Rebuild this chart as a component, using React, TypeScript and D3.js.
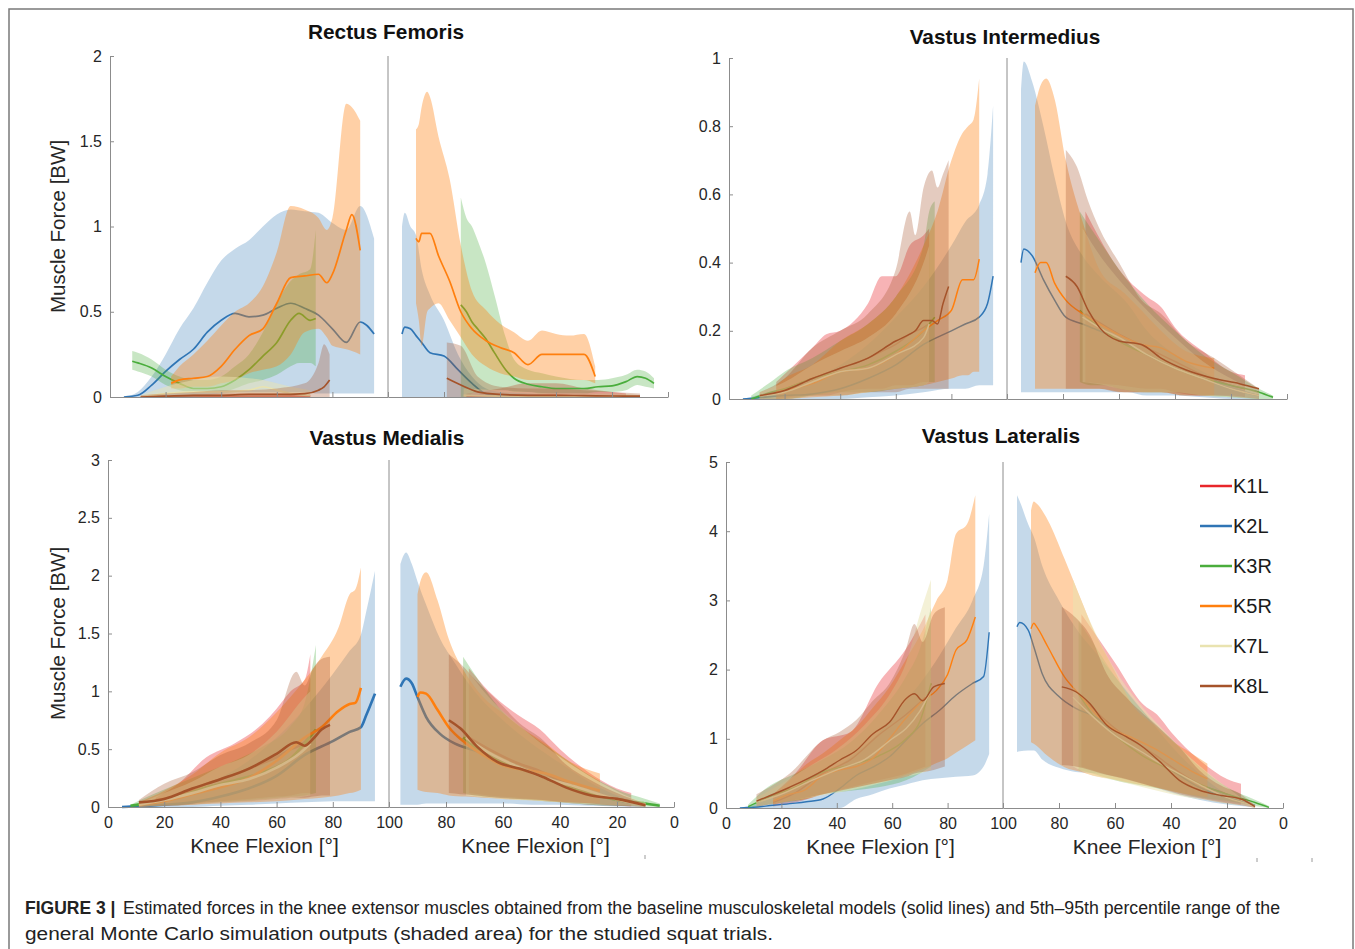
import React, { useEffect, useRef } from 'react';
import * as d3 from 'd3';

// subjects, drawn in this order (band then model line)
const SERIES: string[] = ['K1L', 'K2L', 'K3R', 'K5R', 'K7L', 'K8L'];
const COLORS: string[] = ['#e8262a', '#2f75b5', '#4aad3c', '#ff7f0e', '#e9e3b0', '#a5532a'];
const BAND_OPACITY: number[] = [0.35, 0.28, 0.3, 0.37, 0.5, 0.3];

// rows: [knee flexion (deg), 5th pct, model, 95th pct]  (BW)
// "down" = flexion phase (left half), "up" = extension phase (right half)
const RF_DOWN: number[][][] = [
  [[17, 0, 0, 0.01], [30, 0, 0.002, 0.015], [45, 0, 0.003, 0.02], [60, 0, 0.004, 0.02], [72, 0, 0.005, 0.015]],
  [[5, 0, 0, 0], [10, 0, 0.01, 0.03], [15, 0, 0.07, 0.12], [20, 0, 0.15, 0.25], [25, 0, 0.22, 0.4], [30, 0, 0.28, 0.52], [35, 0.01, 0.38, 0.67], [40, 0.02, 0.45, 0.8], [45, 0.03, 0.49, 0.87], [50, 0.03, 0.47, 0.92], [55, 0.03, 0.48, 1.0], [60, 0.03, 0.52, 1.07], [65, 0.03, 0.55, 1.1], [70, 0.03, 0.52, 1.09], [75, 0.02, 0.48, 1.08], [80, 0.02, 0.4, 1.02], [85, 0.02, 0.32, 0.98], [90, 0.02, 0.44, 1.12], [95, 0.02, 0.37, 0.93]],
  [[8, 0.16, 0.21, 0.27], [10, 0.15, 0.2, 0.26], [15, 0.12, 0.17, 0.22], [20, 0.07, 0.12, 0.16], [25, 0.04, 0.08, 0.12], [30, 0.03, 0.05, 0.1], [35, 0.03, 0.05, 0.1], [40, 0.03, 0.06, 0.12], [45, 0.05, 0.1, 0.18], [50, 0.08, 0.16, 0.25], [55, 0.1, 0.24, 0.38], [60, 0.13, 0.32, 0.55], [65, 0.18, 0.45, 0.68], [68, 0.2, 0.49, 0.72], [72, 0.2, 0.45, 0.75], [74, 0.18, 0.46, 0.98]],
  [[22, 0.05, 0.08, 0.12], [25, 0.05, 0.1, 0.18], [30, 0.06, 0.11, 0.25], [35, 0.06, 0.12, 0.33], [40, 0.08, 0.18, 0.42], [45, 0.1, 0.28, 0.5], [50, 0.14, 0.36, 0.55], [55, 0.16, 0.4, 0.65], [60, 0.18, 0.55, 0.85], [65, 0.25, 0.7, 1.12], [70, 0.38, 0.71, 1.1], [75, 0.4, 0.72, 1.05], [78, 0.35, 0.67, 0.98], [80, 0.3, 0.72, 1.05], [85, 0.28, 0.98, 1.72], [87, 0.27, 1.07, 1.7], [90, 0.25, 0.86, 1.62]],
  [[11, 0, 0, 0.01], [20, 0, 0.02, 0.06], [30, 0, 0.03, 0.1], [40, 0, 0.03, 0.12], [50, 0, 0.04, 0.11], [55, 0, 0.06, 0.1], [60, 0, 0.04, 0.08], [65, 0, 0.02, 0.06], [72, 0, 0.01, 0.04]],
  [[11, 0, 0, 0.01], [20, 0, 0.005, 0.02], [30, 0, 0.01, 0.03], [40, 0, 0.01, 0.04], [50, 0, 0.015, 0.04], [60, 0, 0.015, 0.05], [70, 0, 0.02, 0.08], [75, 0, 0.04, 0.2], [77, 0, 0.06, 0.31], [79, 0, 0.1, 0.25]],
];
const RF_UP: number[][][] = [
  [[72, 0, 0.005, 0.02], [60, 0, 0.01, 0.05], [50, 0, 0.01, 0.08], [40, 0, 0.01, 0.08], [30, 0, 0.005, 0.05], [20, 0, 0.003, 0.03], [15, 0, 0.002, 0.02]],
  [[95, 0, 0.37, 1.0], [94, 0, 0.41, 1.08], [92, 0, 0.4, 1.0], [90, 0, 0.36, 0.95], [88, 0, 0.32, 0.75], [85, 0, 0.26, 0.6], [80, 0, 0.24, 0.45], [75, 0, 0.16, 0.25], [70, 0, 0.08, 0.12], [65, 0, 0.02, 0.05], [60, 0, 0.01, 0.03], [50, 0, 0.005, 0.02], [40, 0, 0, 0.01], [30, 0, 0, 0.01], [20, 0, 0, 0.01], [10, 0, 0, 0]],
  [[74, 0, 0.54, 1.17], [72, 0, 0.5, 1.05], [70, 0.02, 0.44, 1.0], [68, 0.03, 0.4, 0.92], [65, 0.04, 0.34, 0.78], [62, 0.04, 0.26, 0.6], [58, 0.04, 0.16, 0.35], [55, 0.03, 0.11, 0.22], [50, 0.03, 0.075, 0.16], [45, 0.02, 0.06, 0.14], [40, 0.02, 0.05, 0.12], [30, 0.02, 0.05, 0.1], [25, 0.03, 0.06, 0.1], [20, 0.03, 0.065, 0.11], [15, 0.04, 0.09, 0.13], [11, 0.07, 0.12, 0.16], [8, 0.06, 0.11, 0.15], [5, 0.05, 0.08, 0.11]],
  [[90, 0.55, 0.93, 1.57], [89, 0.45, 0.91, 1.6], [88, 0.3, 0.96, 1.7], [86, 0.5, 0.96, 1.79], [85, 0.52, 0.96, 1.76], [82, 0.55, 0.83, 1.53], [78, 0.45, 0.68, 1.28], [74, 0.35, 0.5, 0.89], [70, 0.25, 0.4, 0.62], [65, 0.18, 0.33, 0.51], [60, 0.14, 0.29, 0.43], [55, 0.12, 0.26, 0.38], [50, 0.1, 0.19, 0.33], [45, 0.1, 0.25, 0.39], [40, 0.1, 0.25, 0.37], [35, 0.1, 0.25, 0.36], [30, 0.1, 0.25, 0.37], [26, 0.08, 0.12, 0.18]],
  [[73, 0, 0.01, 0.05], [60, 0, 0.005, 0.04], [50, 0, 0.003, 0.03], [40, 0, 0.002, 0.02], [30, 0, 0.002, 0.02], [20, 0, 0.002, 0.02], [10, 0, 0.002, 0.01]],
  [[79, 0, 0.11, 0.32], [74, 0, 0.07, 0.3], [68, 0, 0.03, 0.12], [60, 0, 0.015, 0.06], [50, 0, 0.01, 0.05], [40, 0, 0.01, 0.05], [30, 0, 0.008, 0.04], [20, 0, 0.006, 0.03], [10, 0, 0.005, 0.02]],
];

const VI_DOWN: number[][][] = [
  [[17, 0, 0.02, 0.05], [30, 0.01, 0.06, 0.15], [35, 0.01, 0.075, 0.19], [40, 0.02, 0.09, 0.2], [50, 0.03, 0.12, 0.28], [55, 0.03, 0.14, 0.36], [60, 0.04, 0.16, 0.36], [65, 0.04, 0.19, 0.45], [70, 0.05, 0.21, 0.48], [72, 0.05, 0.22, 0.5]],
  [[5, 0, 0, 0], [10, 0, 0.003, 0.01], [20, 0, 0.01, 0.03], [30, 0, 0.015, 0.06], [40, 0, 0.03, 0.1], [50, 0.005, 0.06, 0.16], [60, 0.01, 0.1, 0.24], [70, 0.02, 0.16, 0.33], [80, 0.03, 0.2, 0.45], [85, 0.03, 0.22, 0.52], [90, 0.04, 0.24, 0.57], [93, 0.04, 0.28, 0.66], [95, 0.04, 0.36, 0.86]],
  [[8, 0, 0, 0.01], [15, 0, 0.02, 0.05], [20, 0, 0.03, 0.08], [30, 0.01, 0.06, 0.12], [40, 0.02, 0.08, 0.17], [50, 0.02, 0.1, 0.22], [60, 0.03, 0.14, 0.3], [70, 0.04, 0.2, 0.45], [72, 0.05, 0.22, 0.55], [74, 0.05, 0.24, 0.58]],
  [[17, 0, 0.02, 0.04], [20, 0, 0.025, 0.06], [30, 0.005, 0.045, 0.1], [40, 0.01, 0.08, 0.17], [50, 0.02, 0.09, 0.22], [60, 0.03, 0.13, 0.3], [70, 0.04, 0.2, 0.45], [75, 0.05, 0.23, 0.55], [80, 0.06, 0.26, 0.7], [84, 0.07, 0.35, 0.78], [86, 0.07, 0.35, 0.8], [88, 0.08, 0.35, 0.82], [90, 0.08, 0.41, 0.94]],
  [[11, 0, 0.01, 0.02], [20, 0, 0.02, 0.05], [30, 0.01, 0.05, 0.1], [40, 0.01, 0.08, 0.14], [50, 0.02, 0.09, 0.18], [60, 0.03, 0.13, 0.25], [70, 0.04, 0.18, 0.4], [72, 0.05, 0.22, 0.45]],
  [[11, 0, 0.01, 0.02], [20, 0, 0.025, 0.06], [30, 0.01, 0.06, 0.15], [40, 0.01, 0.09, 0.2], [50, 0.02, 0.12, 0.25], [60, 0.02, 0.17, 0.38], [65, 0.03, 0.19, 0.55], [67, 0.03, 0.2, 0.48], [70, 0.03, 0.23, 0.62], [73, 0.03, 0.23, 0.67], [75, 0.03, 0.22, 0.62], [77, 0.03, 0.28, 0.66], [79, 0.03, 0.33, 0.7]],
];
const VI_UP: number[][][] = [
  [[72, 0.05, 0.25, 0.55], [60, 0.04, 0.19, 0.38], [50, 0.03, 0.15, 0.3], [45, 0.03, 0.13, 0.27], [40, 0.02, 0.11, 0.21], [30, 0.01, 0.07, 0.14], [20, 0.01, 0.04, 0.08], [15, 0.005, 0.03, 0.07]],
  [[95, 0.02, 0.4, 0.9], [94, 0.02, 0.44, 0.99], [91, 0.02, 0.42, 0.93], [87, 0.02, 0.35, 0.8], [83, 0.02, 0.29, 0.65], [79, 0.02, 0.24, 0.52], [73, 0.02, 0.22, 0.42], [67, 0.02, 0.2, 0.36], [57, 0.02, 0.16, 0.28], [50, 0.01, 0.13, 0.2], [40, 0.01, 0.09, 0.13], [30, 0.005, 0.06, 0.08], [20, 0, 0.03, 0.04], [10, 0, 0.01, 0.01]],
  [[74, 0.05, 0.26, 0.55], [70, 0.04, 0.23, 0.5], [65, 0.04, 0.2, 0.44], [60, 0.03, 0.17, 0.38], [50, 0.02, 0.13, 0.28], [40, 0.02, 0.09, 0.2], [30, 0.01, 0.06, 0.13], [20, 0.005, 0.04, 0.08], [10, 0, 0.02, 0.03], [5, 0, 0.005, 0.01]],
  [[90, 0.03, 0.37, 0.86], [88, 0.03, 0.4, 0.92], [86, 0.03, 0.4, 0.94], [83, 0.03, 0.34, 0.88], [79, 0.03, 0.29, 0.7], [73, 0.03, 0.25, 0.52], [67, 0.03, 0.22, 0.38], [58, 0.02, 0.18, 0.31], [52, 0.02, 0.16, 0.26], [45, 0.02, 0.15, 0.2], [36, 0.01, 0.11, 0.14], [26, 0.01, 0.09, 0.12]],
  [[73, 0.05, 0.24, 0.5], [65, 0.04, 0.2, 0.4], [60, 0.03, 0.18, 0.35], [50, 0.02, 0.13, 0.26], [40, 0.02, 0.09, 0.18], [30, 0.01, 0.06, 0.11], [20, 0.005, 0.03, 0.06], [10, 0, 0.01, 0.02]],
  [[79, 0.03, 0.36, 0.73], [75, 0.03, 0.33, 0.68], [71, 0.03, 0.26, 0.58], [67, 0.03, 0.21, 0.5], [60, 0.02, 0.17, 0.4], [52, 0.02, 0.16, 0.29], [45, 0.02, 0.12, 0.25], [36, 0.01, 0.085, 0.17], [26, 0.01, 0.06, 0.12], [17, 0.005, 0.045, 0.07], [10, 0, 0.03, 0.03]],
];

const VM_DOWN: number[][][] = [
  [[17, 0.01, 0.06, 0.08], [25, 0.02, 0.1, 0.2], [35, 0.04, 0.2, 0.43], [45, 0.06, 0.28, 0.55], [55, 0.08, 0.38, 0.72], [60, 0.09, 0.43, 0.85], [65, 0.1, 0.5, 1.0], [70, 0.12, 0.56, 1.1], [72, 0.12, 0.62, 1.32]],
  [[5, 0, 0, 0], [10, 0, 0.005, 0.02], [20, 0, 0.02, 0.05], [30, 0, 0.04, 0.12], [40, 0.01, 0.09, 0.25], [50, 0.02, 0.16, 0.4], [60, 0.03, 0.27, 0.6], [70, 0.04, 0.45, 0.85], [80, 0.05, 0.57, 1.15], [86, 0.05, 0.65, 1.35], [90, 0.05, 0.69, 1.49], [92, 0.05, 0.8, 1.7], [95, 0.05, 0.98, 2.04]],
  [[8, 0, 0.01, 0.02], [15, 0.01, 0.04, 0.1], [25, 0.02, 0.09, 0.2], [35, 0.04, 0.17, 0.3], [45, 0.05, 0.23, 0.4], [55, 0.07, 0.3, 0.52], [65, 0.09, 0.42, 0.7], [70, 0.1, 0.55, 0.9], [74, 0.12, 0.67, 1.4]],
  [[11, 0, 0.02, 0.04], [20, 0.01, 0.05, 0.14], [30, 0.02, 0.11, 0.28], [40, 0.03, 0.17, 0.47], [50, 0.04, 0.25, 0.6], [60, 0.05, 0.4, 0.82], [70, 0.07, 0.6, 1.1], [76, 0.08, 0.69, 1.3], [82, 0.1, 0.83, 1.55], [86, 0.12, 0.89, 1.84], [88, 0.13, 0.9, 1.88], [90, 0.15, 1.03, 2.07]],
  [[11, 0, 0.02, 0.03], [20, 0.01, 0.06, 0.12], [30, 0.02, 0.12, 0.22], [40, 0.04, 0.19, 0.35], [50, 0.05, 0.24, 0.45], [60, 0.07, 0.34, 0.65], [70, 0.09, 0.5, 0.95], [72, 0.1, 0.55, 1.0]],
  [[11, 0, 0.04, 0.06], [20, 0.01, 0.07, 0.2], [30, 0.02, 0.16, 0.3], [40, 0.04, 0.24, 0.45], [50, 0.05, 0.33, 0.55], [60, 0.07, 0.46, 0.75], [67, 0.08, 0.56, 1.17], [70, 0.08, 0.53, 1.05], [73, 0.09, 0.59, 1.2], [76, 0.1, 0.67, 1.28], [79, 0.1, 0.71, 1.3]],
];
const VM_UP: number[][][] = [
  [[72, 0.12, 0.6, 1.2], [65, 0.1, 0.5, 1.0], [55, 0.08, 0.38, 0.8], [47, 0.06, 0.31, 0.67], [40, 0.04, 0.23, 0.5], [30, 0.02, 0.13, 0.3], [20, 0.01, 0.07, 0.16], [15, 0.005, 0.05, 0.12]],
  [[96, 0.02, 1.04, 2.1], [94, 0.02, 1.11, 2.2], [92, 0.02, 1.07, 2.1], [90, 0.02, 0.95, 1.95], [87, 0.03, 0.78, 1.75], [82, 0.03, 0.63, 1.45], [77, 0.03, 0.55, 1.25], [70, 0.03, 0.49, 1.0], [60, 0.03, 0.4, 0.75], [50, 0.02, 0.3, 0.55], [40, 0.02, 0.2, 0.38], [30, 0.01, 0.12, 0.22], [20, 0.005, 0.06, 0.1], [10, 0, 0.02, 0.03]],
  [[74, 0.12, 0.6, 1.3], [70, 0.1, 0.52, 1.15], [60, 0.08, 0.38, 0.82], [50, 0.06, 0.3, 0.62], [40, 0.04, 0.2, 0.45], [30, 0.02, 0.12, 0.28], [20, 0.01, 0.06, 0.15], [10, 0.005, 0.03, 0.07], [5, 0, 0.01, 0.03]],
  [[90, 0.15, 0.95, 1.84], [89, 0.14, 0.99, 1.95], [87, 0.13, 0.98, 2.03], [83, 0.12, 0.84, 1.79], [79, 0.1, 0.69, 1.45], [73, 0.09, 0.55, 1.15], [67, 0.08, 0.45, 0.95], [60, 0.07, 0.36, 0.81], [52, 0.06, 0.32, 0.66], [45, 0.05, 0.29, 0.55], [37, 0.04, 0.22, 0.4], [26, 0.03, 0.14, 0.29]],
  [[73, 0.1, 0.6, 1.2], [65, 0.08, 0.47, 0.95], [55, 0.06, 0.35, 0.72], [45, 0.05, 0.25, 0.52], [35, 0.03, 0.18, 0.35], [25, 0.02, 0.1, 0.2], [15, 0.01, 0.04, 0.08], [10, 0, 0.02, 0.04]],
  [[79, 0.12, 0.75, 1.32], [75, 0.11, 0.68, 1.24], [69, 0.1, 0.52, 1.08], [62, 0.08, 0.39, 0.92], [54, 0.07, 0.33, 0.72], [46, 0.06, 0.26, 0.58], [38, 0.04, 0.17, 0.37], [29, 0.03, 0.1, 0.23], [20, 0.01, 0.07, 0.12], [10, 0, 0.015, 0.03]],
];

const VL_DOWN: number[][][] = [
  [[17, 0.02, 0.08, 0.2], [25, 0.08, 0.22, 0.5], [35, 0.2, 0.5, 0.98], [45, 0.3, 0.7, 1.1], [55, 0.4, 1.05, 1.8], [65, 0.5, 1.35, 2.3], [72, 0.6, 1.6, 2.8]],
  [[5, 0, 0, 0], [10, 0, 0.01, 0.05], [17, 0, 0.04, 0.15], [25, 0, 0.07, 0.28], [29, 0, 0.09, 0.36], [35, 0, 0.13, 0.48], [41, 0, 0.28, 0.62], [47, 0.13, 0.47, 0.8], [53, 0.2, 0.59, 1.0], [59, 0.28, 0.74, 1.25], [65, 0.34, 0.98, 1.55], [71, 0.4, 1.22, 1.85], [77, 0.43, 1.41, 2.2], [83, 0.45, 1.63, 2.6], [89, 0.47, 1.8, 3.0], [93, 0.6, 1.9, 3.5], [95, 0.78, 2.54, 4.25]],
  [[8, 0, 0.02, 0.05], [15, 0.05, 0.15, 0.3], [25, 0.1, 0.3, 0.5], [35, 0.2, 0.52, 0.7], [45, 0.25, 0.62, 0.95], [55, 0.3, 0.75, 1.35], [65, 0.4, 1.0, 1.9], [70, 0.5, 1.25, 2.3], [74, 0.6, 1.8, 2.9]],
  [[17, 0.05, 0.1, 0.2], [23, 0.1, 0.2, 0.4], [28, 0.12, 0.25, 0.6], [35, 0.2, 0.47, 0.79], [41, 0.25, 0.55, 0.98], [47, 0.3, 0.6, 1.17], [53, 0.35, 0.72, 1.45], [59, 0.4, 1.0, 1.75], [65, 0.48, 1.3, 2.15], [71, 0.56, 1.55, 2.57], [76, 0.65, 1.7, 3.0], [80, 0.72, 1.93, 3.3], [83, 0.8, 2.28, 3.96], [87, 0.9, 2.43, 4.1], [90, 0.98, 2.76, 4.52]],
  [[11, 0.03, 0.08, 0.15], [20, 0.08, 0.2, 0.35], [30, 0.15, 0.38, 0.6], [40, 0.22, 0.55, 0.85], [50, 0.3, 0.7, 1.2], [60, 0.4, 1.0, 1.7], [65, 0.45, 1.15, 2.1], [70, 0.5, 1.4, 2.8], [74, 0.55, 1.7, 3.3]],
  [[11, 0.02, 0.1, 0.2], [23, 0.1, 0.3, 0.5], [35, 0.2, 0.54, 0.98], [41, 0.25, 0.69, 1.1], [47, 0.3, 0.83, 1.27], [53, 0.35, 1.07, 1.55], [59, 0.4, 1.24, 1.8], [65, 0.45, 1.58, 2.3], [68, 0.5, 1.65, 2.66], [71, 0.52, 1.55, 2.4], [75, 0.55, 1.75, 2.8], [79, 0.6, 1.8, 2.9]],
];
const VL_UP: number[][][] = [
  [[72, 0.6, 1.6, 2.8], [60, 0.45, 1.15, 2.1], [50, 0.35, 0.88, 1.5], [45, 0.3, 0.75, 1.35], [40, 0.25, 0.6, 1.1], [30, 0.15, 0.35, 0.7], [20, 0.08, 0.2, 0.42], [15, 0.05, 0.12, 0.35]],
  [[95, 0.81, 2.62, 4.52], [94, 0.82, 2.68, 4.43], [91, 0.83, 2.57, 4.1], [89, 0.83, 2.33, 3.92], [86, 0.7, 1.94, 3.5], [80, 0.58, 1.61, 3.0], [74, 0.52, 1.44, 2.6], [66, 0.5, 1.29, 2.2], [60, 0.45, 1.05, 1.9], [50, 0.35, 0.8, 1.4], [40, 0.22, 0.55, 0.9], [30, 0.12, 0.3, 0.5], [20, 0.05, 0.15, 0.2], [10, 0.01, 0.04, 0.05]],
  [[73, 0.55, 1.65, 2.7], [68, 0.5, 1.35, 2.4], [60, 0.4, 1.05, 1.9], [50, 0.32, 0.75, 1.4], [40, 0.25, 0.55, 1.0], [30, 0.16, 0.35, 0.6], [20, 0.1, 0.2, 0.3], [10, 0.03, 0.08, 0.12], [5, 0, 0.01, 0.03]],
  [[90, 0.95, 2.59, 4.3], [89, 0.93, 2.67, 4.43], [88, 0.9, 2.62, 4.4], [84, 0.75, 2.33, 4.16], [78, 0.59, 1.89, 3.6], [72, 0.52, 1.61, 3.0], [68, 0.47, 1.41, 2.6], [61, 0.42, 1.15, 2.05], [53, 0.35, 1.0, 1.45], [46, 0.3, 0.86, 1.2], [39, 0.24, 0.69, 0.95], [33, 0.19, 0.54, 0.8], [27, 0.16, 0.42, 0.64]],
  [[75, 0.6, 1.6, 3.3], [70, 0.5, 1.4, 2.8], [60, 0.4, 1.05, 2.0], [50, 0.3, 0.8, 1.45], [42, 0.22, 0.6, 1.1], [35, 0.16, 0.45, 0.8], [28, 0.12, 0.3, 0.55], [20, 0.06, 0.15, 0.3], [12, 0.02, 0.05, 0.08], [10, 0, 0.02, 0.05]],
  [[79, 0.62, 1.75, 2.91], [74, 0.6, 1.68, 2.75], [69, 0.55, 1.51, 2.5], [63, 0.48, 1.2, 1.94], [56, 0.42, 1.03, 1.6], [51, 0.36, 0.91, 1.4], [44, 0.28, 0.67, 1.15], [37, 0.2, 0.4, 0.88], [30, 0.14, 0.26, 0.55], [22, 0.08, 0.18, 0.32], [15, 0.04, 0.13, 0.2], [10, 0, 0.02, 0.04]],
];

const RF_TICKS = [0, 0.5, 1, 1.5, 2];
const VI_TICKS = [0, 0.2, 0.4, 0.6, 0.8, 1];
const VM_TICKS = [0, 0.5, 1, 1.5, 2, 2.5, 3];
const VL_TICKS = [0, 1, 2, 3, 4, 5];
const KNEE_TICKS_DOWN = [0, 20, 40, 60, 80, 100];
const KNEE_TICKS_UP = [80, 60, 40, 20, 0];

const FONT = '"Liberation Sans", Arial, Helvetica, sans-serif';

const panels = [
  { title: 'Rectus Femoris', down: RF_DOWN, up: RF_UP, ticks: RF_TICKS, x0: 110, xMid: 388, xEnd: 668, yTop: 56, yBase: 397, titleY: 39, yLabel: true, xLabels: false, lw: 1.7 },
  { title: 'Vastus Intermedius', down: VI_DOWN, up: VI_UP, ticks: VI_TICKS, x0: 729, xMid: 1007, xEnd: 1287, yTop: 58, yBase: 399, titleY: 44, yLabel: false, xLabels: false, lw: 1.5 },
  { title: 'Vastus Medialis', down: VM_DOWN, up: VM_UP, ticks: VM_TICKS, x0: 108, xMid: 389, xEnd: 674, yTop: 460, yBase: 807, titleY: 445, yLabel: true, xLabels: true, lw: 2.6 },
  { title: 'Vastus Lateralis', down: VL_DOWN, up: VL_UP, ticks: VL_TICKS, x0: 726, xMid: 1003, xEnd: 1283, yTop: 462, yBase: 808, titleY: 443, yLabel: false, xLabels: true, lw: 1.4 },
];

const App: React.FC = () => {
  const svgRef = useRef<SVGSVGElement | null>(null);

  useEffect(() => {
    const el = svgRef.current;
    if (!el) return;
    const svg = d3.select(el);
    svg.selectAll('*').remove();

    svg.append('rect').attr('width', 1355).attr('height', 949).attr('fill', '#fff');
    // figure frame
    svg.append('rect')
      .attr('x', 9).attr('y', 9).attr('width', 1344).attr('height', 980)
      .attr('fill', 'none').attr('stroke', '#7a7a7a').attr('stroke-width', 1.5);

    panels.forEach((p) => {
      const g = svg.append('g');
      const yMax = p.ticks[p.ticks.length - 1];
      const y = d3.scaleLinear().domain([0, yMax]).range([p.yBase, p.yTop]);
      const xDown = d3.scaleLinear().domain([0, 100]).range([p.x0, p.xMid]);
      const xUp = d3.scaleLinear().domain([100, 0]).range([p.xMid, p.xEnd]);

      const phases: [number[][][], d3.ScaleLinear<number, number>][] = [[p.down, xDown], [p.up, xUp]];
      phases.forEach(([data, xs]) => {
        const area = d3.area<number[]>()
          .x((d) => xs(d[0]))
          .y0((d) => y(d[1]))
          .y1((d) => y(d[3]))
          .curve(d3.curveMonotoneX);
        const line = d3.line<number[]>()
          .x((d) => xs(d[0]))
          .y((d) => y(d[2]))
          .curve(d3.curveMonotoneX);
        data.forEach((rows, i) => {
          g.append('path')
            .attr('d', area(rows) as string)
            .attr('fill', COLORS[i])
            .attr('fill-opacity', BAND_OPACITY[i]);
          g.append('path')
            .attr('d', line(rows) as string)
            .attr('fill', 'none')
            .attr('stroke', COLORS[i])
            .attr('stroke-width', p.lw)
            .attr('stroke-linejoin', 'round');
        });
      });

      // axes
      const yAxis = g.append('g')
        .attr('transform', `translate(${p.x0},0)`)
        .call(d3.axisLeft(y).tickValues(p.ticks).tickSize(-4).tickSizeOuter(0).tickPadding(8).tickFormat((d) => String(d)));
      const xAxisDown = g.append('g')
        .attr('transform', `translate(0,${p.yBase})`)
        .call(d3.axisBottom(xDown).tickValues(KNEE_TICKS_DOWN).tickSize(-5).tickSizeOuter(0).tickPadding(10)
          .tickFormat((d) => (p.xLabels ? String(d) : '')));
      const xAxisUp = g.append('g')
        .attr('transform', `translate(0,${p.yBase})`)
        .call(d3.axisBottom(xUp).tickValues(KNEE_TICKS_UP).tickSize(-5).tickSizeOuter(0).tickPadding(10)
          .tickFormat((d) => (p.xLabels ? String(d) : '')));
      [yAxis, xAxisDown, xAxisUp].forEach((a) => {
        a.attr('font-family', FONT).attr('font-size', 16);
        a.selectAll('.domain').attr('stroke', '#8c8c8c');
        a.selectAll('.tick line').attr('stroke', '#8c8c8c');
        a.selectAll('.tick text').attr('fill', '#262626');
      });
      // divider between flexion and extension phases
      g.append('line')
        .attr('x1', p.xMid).attr('x2', p.xMid)
        .attr('y1', p.yTop).attr('y2', p.yBase)
        .attr('stroke', '#8c8c8c').attr('stroke-width', 1);

      g.append('text')
        .attr('x', p.xMid - 2).attr('y', p.titleY)
        .attr('text-anchor', 'middle')
        .attr('font-family', FONT).attr('font-weight', 'bold').attr('font-size', 20.8)
        .attr('fill', '#111')
        .text(p.title);

      if (p.yLabel) {
        g.append('text')
          .attr('transform', `translate(65,${(p.yTop + p.yBase) / 2}) rotate(-90)`)
          .attr('text-anchor', 'middle')
          .attr('font-family', FONT).attr('font-size', 20.5).attr('fill', '#262626')
          .text('Muscle Force [BW]');
      }
      if (p.xLabels) {
        [(p.x0 + p.xMid) / 2 + 16, (p.xMid + p.xEnd) / 2 + 4].forEach((cx) => {
          g.append('text')
            .attr('x', cx).attr('y', p.yBase + 46)
            .attr('text-anchor', 'middle')
            .attr('font-family', FONT).attr('font-size', 21).attr('fill', '#262626')
            .text('Knee Flexion [°]');
        });
      }
    });

    // small stray marks under the lower axes
    [[645, 855], [1257, 858], [1312, 858]].forEach(([mx, my]) => {
      svg.append('line').attr('x1', mx).attr('x2', mx).attr('y1', my).attr('y2', my + 4)
        .attr('stroke', '#9a9a9a').attr('stroke-width', 1);
    });

    // legend
    const legend = svg.append('g');
    SERIES.forEach((s, i) => {
      const ly = 486 + i * 40;
      legend.append('line')
        .attr('x1', 1200).attr('x2', 1232).attr('y1', ly).attr('y2', ly)
        .attr('stroke', COLORS[i]).attr('stroke-width', 2.5);
      legend.append('text')
        .attr('x', 1233).attr('y', ly + 7)
        .attr('font-family', FONT).attr('font-size', 20).attr('fill', '#1a1a1a')
        .text(s);
    });

    // caption
    const cap = svg.append('g').attr('font-family', FONT).attr('font-size', 17.5).attr('fill', '#222');
    cap.append('text').attr('x', 25).attr('y', 914).attr('font-weight', 'bold').text('FIGURE 3 |');
    cap.append('text').attr('x', 123).attr('y', 914)
      .attr('textLength', 1157).attr('lengthAdjust', 'spacingAndGlyphs')
      .text('Estimated forces in the knee extensor muscles obtained from the baseline musculoskeletal models (solid lines) and 5th–95th percentile range of the');
    cap.append('text').attr('x', 25).attr('y', 940)
      .attr('textLength', 748).attr('lengthAdjust', 'spacingAndGlyphs')
      .text('general Monte Carlo simulation outputs (shaded area) for the studied squat trials.');
  }, []);

  return (
    <div style={{ position: 'absolute', left: 0, top: 0 }}>
      <svg ref={svgRef} width={1355} height={949} style={{ display: 'block' }} />
    </div>
  );
};

export default App;
